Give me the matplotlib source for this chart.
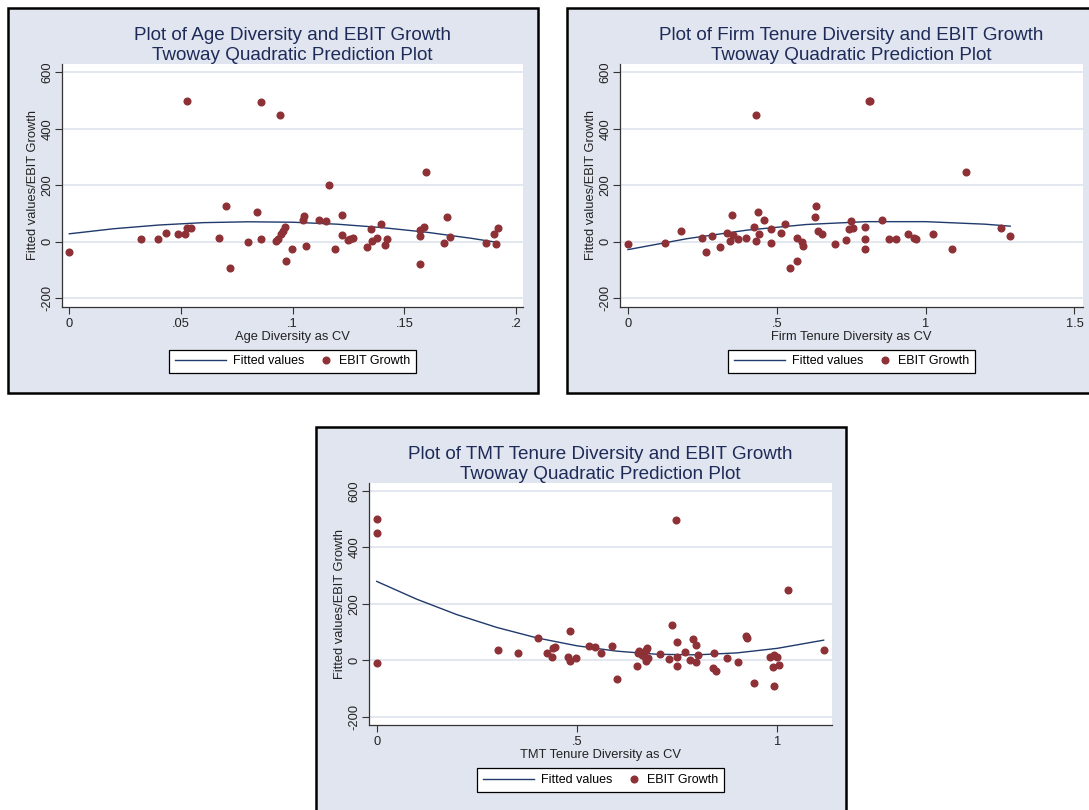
import matplotlib
matplotlib.use('Agg')
import matplotlib.pyplot as plt
from matplotlib.patches import Rectangle
from matplotlib.lines import Line2D
from matplotlib.legend_handler import HandlerLine2D

plt.rcParams['font.family'] = ['Liberation Sans', 'DejaVu Sans']

W, H = 1089, 810
NAVY = '#1F3A6B'
MAROON = '#8E3137'
FONDO = '#E0E5EF'
REJILLA = '#E3E7EF'
TITULO = '#1E2B58'
TEXTO = '#222222'

# --- datos ---
age_x = [0.0, 0.0319, 0.0399, 0.0431, 0.0488, 0.0519, 0.0528, 0.0545, 0.0528, 0.067,
         0.0701, 0.0719, 0.080, 0.0842, 0.0858, 0.086, 0.0927, 0.0936, 0.0945, 0.0946,
         0.0958, 0.0964, 0.0969, 0.0997, 0.1048, 0.1051, 0.1058, 0.1118, 0.1151, 0.1161,
         0.119, 0.1219, 0.1219, 0.1246, 0.1258, 0.1272, 0.1334, 0.1352, 0.1355, 0.1378,
         0.1396, 0.1412, 0.1421, 0.1569, 0.1569, 0.157, 0.1588, 0.1597, 0.1679, 0.1691,
         0.1704, 0.1867, 0.19, 0.1912, 0.1921]
age_y = [-38, 8, 11, 32, 26, 26, 47, 47, 500, 13,
         126, -93, -1, 104, 496, 11, 4, 8, 450, 28,
         37, 53, -67, -27, 77, 92, -17, 77, 74, 201,
         -25, 93, 25, 6, 9, 12, -20, 45, 2, 14,
         61, -11, 11, -79, 21, 40, 53, 248, -5, 86,
         18, -4, 26, -8, 48]
age_fit_x = [0.0, 0.02, 0.04, 0.06, 0.08, 0.10, 0.12, 0.14, 0.16, 0.18, 0.1921]
age_fit_y = [28, 46, 59, 67.5, 70.5, 69, 62, 50, 33.5, 12, -3]

firm_x = [0.0, 0.124, 0.177, 0.249, 0.261, 0.281, 0.309, 0.331, 0.342, 0.35,
          0.352, 0.370, 0.396, 0.422, 0.43, 0.431, 0.438, 0.441, 0.458, 0.480,
          0.482, 0.514, 0.527, 0.544, 0.568, 0.568, 0.586, 0.588, 0.627, 0.632,
          0.637, 0.651, 0.697, 0.733, 0.741, 0.75, 0.757, 0.796, 0.797, 0.796,
          0.81, 0.812, 0.854, 0.878, 0.901, 0.941, 0.961, 0.969, 1.024, 1.090,
          1.136, 1.253, 1.284]
firm_y = [-9, -4, 38, 12, -38, 20, -20, 32, 4, 93,
          25, 9, 12, 52, 2, 450, 104, 26, 77, -4,
          46, 32, 61, -93, 13, -67, 0, -17, 86, 126,
          37, 26, -9, 7, 44, 74, 50, 52, 9, -25,
          500, 497, 78, 9, 8, 26, 13, 11, 28, -27,
          248, 48, 19]
firm_fit_x = [0.0, 0.2, 0.4, 0.6, 0.8, 1.0, 1.2, 1.284]
firm_fit_y = [-28, 11, 41, 61, 71, 71, 62, 55]

tmt_x = [0.0, 0.0, 0.0, 0.303, 0.353, 0.402, 0.426, 0.438, 0.441, 0.445,
         0.478, 0.482, 0.483, 0.498, 0.53, 0.545, 0.561, 0.588, 0.601, 0.649,
         0.652, 0.654, 0.663, 0.671, 0.673, 0.675, 0.673, 0.677, 0.707, 0.731,
         0.738, 0.748, 0.75, 0.75, 0.751, 0.769, 0.783, 0.79, 0.798, 0.798,
         0.803, 0.839, 0.843, 0.848, 0.875, 0.903, 0.923, 0.925, 0.943, 0.983,
         0.989, 0.992, 0.993, 0.999, 1.005, 1.027, 1.116]
tmt_y = [500, 450, -11, 37, 26, 77, 26, 12, 43, 48,
         12, -2, 105, 9, 52, 48, 26, 52, -68, -22,
         25, 33, 17, 12, 35, 45, -1, 7, 21, 4,
         126, 496, 63, -19, 12, 28, 2, 76, 53, -8,
         17, -26, 24, -37, 8, -5, 87, 79, -79, 13,
         -25, 19, -93, 12, -17, 248, 37]
tmt_fit_x = [0.0, 0.1, 0.2, 0.3, 0.4, 0.5, 0.6, 0.7, 0.8, 0.9, 1.0, 1.116]
tmt_fit_y = [279, 216, 161.5, 116, 79, 51, 32, 21, 19, 26, 42, 71]

y_ticks = [-200, 0, 200, 400, 600]


class PuntoDerecha(HandlerLine2D):
    # el punto va pegado al texto, como en la leyenda de Stata
    def get_xdata(self, legend, xdescent, ydescent, width, height, fontsize):
        fin = width - xdescent
        return [fin - 8, fin], [fin - 4]


def caja(x0, y0, x1, y1):
    return [x0 / W, 1 - y1 / H, (x1 - x0) / W, (y1 - y0) / H]


def panel(fig, marco, area, xlim, ylim, xticks, xlabels, titulo, etiqueta_x,
          xs, ys, fx, fy, centro_leyenda):
    x0, y0, x1, y1 = marco
    fig.add_artist(Rectangle((x0 / W, 1 - y1 / H), (x1 - x0) / W, (y1 - y0) / H,
                             transform=fig.transFigure, facecolor=FONDO,
                             edgecolor='black', lw=1.8, zorder=0))
    ax = fig.add_axes(caja(*area))
    ax.set_facecolor('white')
    for lado in ['top', 'right']:
        ax.spines[lado].set_visible(False)
    for lado in ['left', 'bottom']:
        ax.spines[lado].set_color('#333333')
        ax.spines[lado].set_linewidth(0.9)

    ax.plot(fx, fy, color=NAVY, lw=1.0, zorder=3)
    ax.plot(xs, ys, 'o', color=MAROON, ms=4.8, mec=MAROON, zorder=4)

    ax.set_xlim(*xlim)
    ax.set_ylim(*ylim)
    ax.set_yticks(y_ticks)
    ax.set_yticklabels([str(v) for v in y_ticks])
    ax.set_xticks(xticks)
    ax.set_xticklabels(xlabels)
    ax.yaxis.grid(True, color=REJILLA, lw=1.4)
    ax.set_axisbelow(True)
    ax.tick_params(direction='out', length=5, width=0.8, color='#333333',
                   labelsize=9.3, labelcolor=TEXTO)
    ax.tick_params(axis='x', pad=3.2)
    ax.tick_params(axis='y', labelrotation=90, pad=1.2)
    for t in ax.get_yticklabels():
        t.set_va('center')

    ax.set_xlabel(etiqueta_x, fontsize=9.3, color=TEXTO, labelpad=0.2)
    ax.set_ylabel('Fitted values/EBIT Growth', fontsize=9.3, color=TEXTO, labelpad=1.5)
    ax.set_title(titulo, fontsize=13.6, color=TITULO, pad=3, linespacing=1.2)

    linea = Line2D([], [], color=NAVY, lw=1.0)
    punto = Line2D([], [], marker='o', ls='', color=MAROON, ms=4.8)
    cx, cy = centro_leyenda
    leg = ax.legend([linea, punto], ['Fitted values', 'EBIT Growth'], ncol=2,
                    loc='center', bbox_to_anchor=(cx / W, 1 - cy / H),
                    bbox_transform=fig.transFigure, frameon=True, fancybox=False,
                    edgecolor='black', framealpha=1, fontsize=9,
                    handlelength=4.1, handletextpad=0.55, columnspacing=-1.9,
                    borderpad=0.45, handler_map={punto: PuntoDerecha(numpoints=1)})
    leg.get_frame().set_linewidth(0.9)
    return ax


fig = plt.figure(figsize=(W / 100, H / 100), dpi=100)
fig.patch.set_facecolor('white')

panel(fig, (8, 8, 538, 393), (62, 64, 523, 307),
      (-0.00327, 0.20313), (-231.3, 629.4),
      [0, 0.05, 0.1, 0.15, 0.2], ['0', '.05', '.1', '.15', '.2'],
      'Plot of Age Diversity and EBIT Growth\nTwoway Quadratic Prediction Plot',
      'Age Diversity as CV', age_x, age_y, age_fit_x, age_fit_y, (292.5, 361.5))

panel(fig, (567, 8, 1100, 393), (620, 64, 1083, 307),
      (-0.0269, 1.5286), (-231.3, 629.4),
      [0, 0.5, 1, 1.5], ['0', '.5', '1', '1.5'],
      'Plot of Firm Tenure Diversity and EBIT Growth\nTwoway Quadratic Prediction Plot',
      'Firm Tenure Diversity as CV', firm_x, firm_y, firm_fit_x, firm_fit_y, (851.5, 361.5))

panel(fig, (316, 427, 846, 830), (369, 483, 832, 725),
      (-0.01925, 1.1368), (-229.3, 627.3),
      [0, 0.5, 1], ['0', '.5', '1'],
      'Plot of TMT Tenure Diversity and EBIT Growth\nTwoway Quadratic Prediction Plot',
      'TMT Tenure Diversity as CV', tmt_x, tmt_y, tmt_fit_x, tmt_fit_y, (600.5, 780))

fig.savefig('out.png', dpi=100, facecolor='white')
